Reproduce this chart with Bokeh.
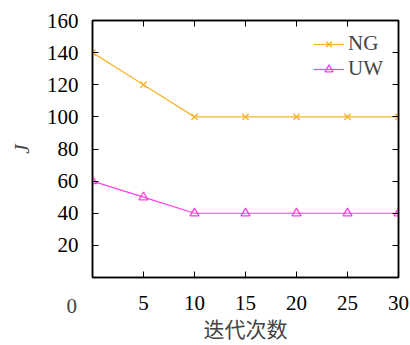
from bokeh.plotting import figure
from bokeh.models import (Range1d, LinearAxis, FixedTicker, Title, Legend, LegendItem)
from bokeh.embed import file_html
from bokeh.resources import INLINE

iterations = [0, 5, 10, 15, 20, 25, 30]
ng_values = [140, 120, 100, 100, 100, 100, 100]
uw_values = [60, 50, 40, 40, 40, 40, 40]
x_ticks = [0, 5, 10, 15, 20, 25, 30]
y_ticks = [20, 40, 60, 80, 100, 120, 140, 160]
series_names = ["NG", "UW"]
x_title = "迭代次数"
y_title = "J\n"
origin_label = "\n\n0"

NG_COLOR = "#F5B42C"
UW_COLOR = "#FF40E0"
SERIF = "Liberation Serif"
TICK_FS = "21px"

p = figure(width=410, height=345, output_backend="svg", toolbar_location=None,
           x_range=Range1d(0, 30), y_range=Range1d(0, 160),
           min_border_left=87, min_border_right=12, min_border_top=20,
           min_border_bottom=66)
p.xgrid.visible = False
p.ygrid.visible = False
p.outline_line_color = "black"
p.outline_line_width = 1.5
p.background_fill_color = "white"
p.border_fill_color = "white"

def style_axis(ax, labels=True):
    ax.axis_line_color = "black"
    ax.axis_line_width = 1.5
    ax.major_tick_in = 6
    ax.major_tick_out = 0
    ax.minor_tick_line_color = None
    ax.major_tick_line_color = "black"
    ax.major_tick_line_width = 1
    ax.major_label_text_font = SERIF
    ax.major_label_text_font_size = TICK_FS
    ax.major_label_text_color = "black"
    if not labels:
        ax.major_label_text_font_size = "0px"
        ax.major_label_text_color = None

xa = p.xaxis[0]
xa.ticker = FixedTicker(ticks=x_ticks)
xa.major_label_overrides = {0: ""}
style_axis(xa)
xa.major_label_standoff = 18
xa.axis_label = x_title
xa.axis_label_text_font = "Noto Sans CJK SC"
xa.axis_label_text_font_size = "21px"
xa.axis_label_text_font_style = "normal"
xa.axis_label_standoff = 0

ya = p.yaxis[0]
ya.ticker = FixedTicker(ticks=y_ticks)
style_axis(ya)
ya.major_label_standoff = 14
ya.axis_label = origin_label
ya.axis_label_orientation = "horizontal"
ya.axis_label_align = "start"
ya.axis_label_text_font = SERIF
ya.axis_label_text_font_size = TICK_FS
ya.axis_label_text_font_style = "normal"
ya.axis_label_standoff = -33

p.add_layout(Title(text=y_title, align="center", vertical_align="top", text_font=SERIF,
                   text_font_size="21px", text_font_style="italic", standoff=18,
                   text_line_height=0.8), "left")

top = LinearAxis(ticker=FixedTicker(ticks=x_ticks))
style_axis(top, labels=False)
p.add_layout(top, "above")
right = LinearAxis(ticker=FixedTicker(ticks=y_ticks))
style_axis(right, labels=False)
p.add_layout(right, "right")

l1 = p.line(iterations, ng_values, line_color=NG_COLOR, line_width=1.2)
m1 = p.scatter(iterations, ng_values, marker="x", size=9, line_color=NG_COLOR, line_width=1.4)
l2 = p.line(iterations, uw_values, line_color=UW_COLOR, line_width=1.2)
m2 = p.scatter(iterations, uw_values, marker="triangle", size=9, line_color=UW_COLOR,
               fill_color=None, line_width=1.3)

legend = Legend(items=[LegendItem(label=series_names[0], renderers=[l1, m1]),
                       LegendItem(label=series_names[1], renderers=[l2, m2])],
                location="top_right", border_line_color=None,
                background_fill_alpha=0, label_text_font=SERIF,
                label_text_font_size="21px", glyph_width=31, glyph_height=20,
                label_standoff=4, spacing=-5, padding=0, margin=11,
                label_height=20, label_width=39)
p.add_layout(legend)

open("out.html", "w").write(file_html(p, INLINE))
